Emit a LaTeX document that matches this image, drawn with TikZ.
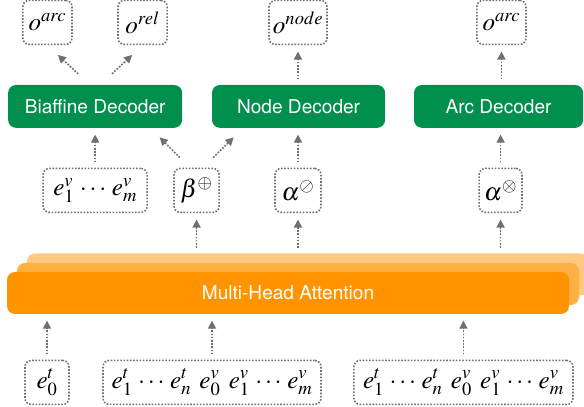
\documentclass[tikz,border=0pt]{standalone}
\usepackage{xcolor}
\usepackage{mathptmx}
\usepackage{fontspec}
\setsansfont{TeX Gyre Heros}
\usepackage{tikz}
\usetikzlibrary{arrows.meta}
\usetikzlibrary{positioning}

\definecolor{decgreen}{RGB}{0,143,76}
\definecolor{mhaorange}{RGB}{255,148,0}
\definecolor{mhamid}{RGB}{255,176,66}
\definecolor{mhaback}{RGB}{255,202,128}
\definecolor{arrowgray}{RGB}{112,112,112}

\begin{document}
\begin{tikzpicture}[
	thick,
	font=\sffamily,
	>={Triangle[length=8pt,width=8pt]}
]
\tikzset{
    decoder/.style = {rectangle, rounded corners=0.28cm, fill=decgreen, text=white, minimum height=1.5cm, font=\sffamily\fontsize{19}{22}\selectfont},
    varbox/.style = {rectangle, rounded corners=0.22cm, draw=arrowgray, dash pattern=on 1.6pt off 1.6pt, line width=1.6pt, minimum height=1.54cm, inner sep=2pt, font=\fontsize{25}{28}\selectfont},
    layer/.style = {rectangle, rounded corners=0.28cm, minimum width=19.67cm, minimum height=1.47cm, font=\sffamily\fontsize{19}{22}\selectfont},
    flow/.style = {->, draw=arrowgray, fill=arrowgray, dash pattern=on 1.6pt off 1.6pt, line width=1.6pt, shorten <=0.18cm, shorten >=0.22cm},
}
\useasboundingbox (0,0) rectangle (20.44,14.245);
% outputs
\node[varbox, minimum width=1.72cm] (oarc) at (1.66,13.46) {$o^{arc}$};
\node[varbox, minimum width=1.72cm] (orel) at (4.99,13.46) {$o^{rel}$};
\node[varbox, minimum width=2.03cm] (onode) at (10.43,13.46) {$o^{node}$};
\node[varbox, minimum width=1.72cm] (oarcb) at (17.55,13.46) {$o^{arc}$};
% decoders
\node[decoder, minimum width=6.09cm] (biaffine) at (3.33,10.52) {Biaffine Decoder};
\node[decoder, minimum width=6.06cm] (nodedec) at (10.45,10.52) {Node Decoder};
\node[decoder, minimum width=5.92cm] (arcdec) at (17.45,10.52) {Arc Decoder};
% decoder inputs
\node[varbox, minimum width=3.64cm] (ev) at (3.33,7.58) {$e^v_1 \,\cdots\, e^v_m$};
\node[varbox, minimum width=1.58cm] (beta) at (6.88,7.58) {$\beta^{\oplus}$};
\node[varbox, minimum width=1.61cm] (alphanode) at (10.43,7.58) {$\alpha^{\oslash}$};
\node[varbox, minimum width=1.50cm] (alphaarc) at (17.52,7.58) {$\alpha^{\otimes}$};
% attention heads
\node[layer, fill=mhaback] (mha3) at (10.78,4.64) {};
\node[layer, fill=mhamid] (mha2) at (10.43,4.305) {};
\node[layer, fill=mhaorange, text=white] (mha) at (10.08,3.99) {Multi-Head Attention};
% inputs
\node[varbox, minimum width=1.54cm] (et0) at (1.645,0.86) {$e^t_0$};
\node[varbox, minimum width=7.63cm] (seqa) at (7.42,0.86) {$e^t_1 \,\cdots\, e^t_n\;\, e^v_0\;\, e^v_1 \,\cdots\, e^v_m$};
\node[varbox, minimum width=7.67cm] (seqb) at (16.22,0.86) {$e^t_1 \,\cdots\, e^t_n\;\, e^v_0\;\, e^v_1 \,\cdots\, e^v_m$};

\draw[flow] (et0.north) -- (et0.north |- mha.south);
\draw[flow] (seqa.north) -- (seqa.north |- mha.south);
\draw[flow] (seqb.north) -- (seqb.north |- mha.south);

\draw[flow] (beta.south |- mha3.north) -- (beta.south);
\draw[flow] (alphanode.south |- mha3.north) -- (alphanode.south);
\draw[flow] (alphaarc.south |- mha3.north) -- (alphaarc.south);

\draw[flow] (ev.north) -- (ev.north |- biaffine.south);
\draw[flow, shorten <=0.5cm, shorten >=0.45cm] ([xshift=-0.23cm]beta.north) -- ([xshift=-1.12cm]biaffine.south east);
\draw[flow, shorten <=0.5cm, shorten >=0.45cm] ([xshift=0.23cm]beta.north) -- ([xshift=1.09cm]nodedec.south west);
\draw[flow] (alphanode.north) -- (alphanode.north |- nodedec.south);
\draw[flow] (alphaarc.north) -- (alphaarc.north |- arcdec.south);

\draw[flow, shorten <=0.55cm, shorten >=0.5cm] ([xshift=-0.19cm]biaffine.north) -- (oarc.south);
\draw[flow, shorten <=0.55cm, shorten >=0.5cm] ([xshift=0.19cm]biaffine.north) -- (orel.south);
\draw[flow] (onode.south |- nodedec.north) -- (onode.south);
\draw[flow] (oarcb.south |- arcdec.north) -- (oarcb.south);
\end{tikzpicture}
\end{document}
